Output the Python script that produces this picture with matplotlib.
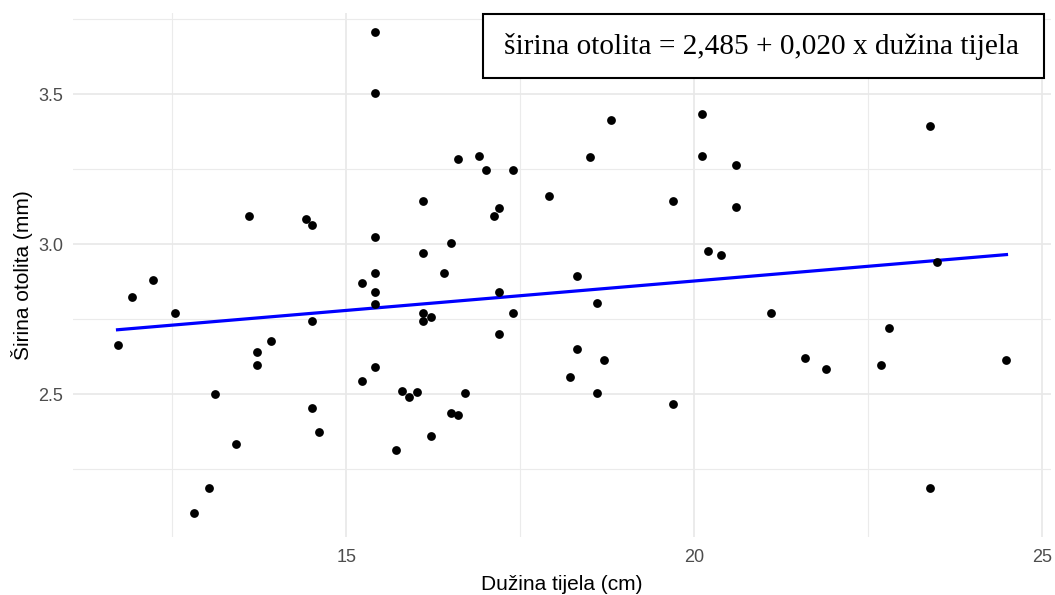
import numpy as np
import matplotlib
matplotlib.use("Agg")
import matplotlib.pyplot as plt
from matplotlib.patches import Rectangle

# ── Daten ────────────────────────────────────────────────────────────────────
duzina = [11.71, 11.92, 12.22, 12.53, 12.81, 13.02, 13.11, 13.41, 13.60, 13.72,
          13.72, 13.91, 14.42, 14.51, 14.51, 14.51, 14.61, 15.22, 15.22, 15.41,
          15.41, 15.41, 15.41, 15.41, 15.41, 15.41, 15.72, 15.80, 15.90, 16.01,
          16.10, 16.10, 16.10, 16.10, 16.21, 16.21, 16.41, 16.51, 16.51, 16.60,
          16.60, 16.71, 16.90, 17.01, 17.12, 17.20, 17.20, 17.20, 17.40, 17.40,
          17.92, 18.21, 18.31, 18.31, 18.50, 18.60, 18.60, 18.71, 18.80, 19.70,
          19.70, 20.11, 20.11, 20.20, 20.39, 20.60, 20.60, 21.10, 21.60, 21.90,
          22.69, 22.80, 23.39, 23.39, 23.49, 24.49]
sirina = [2.663, 2.824, 2.880, 2.770, 2.104, 2.187, 2.499, 2.335, 3.094, 2.640,
          2.598, 2.677, 3.083, 3.064, 2.745, 2.454, 2.375, 2.869, 2.544, 3.708,
          3.502, 3.025, 2.905, 2.840, 2.800, 2.590, 2.314, 2.512, 2.491, 2.508,
          3.144, 2.971, 2.772, 2.744, 2.758, 2.360, 2.905, 3.004, 2.438, 3.283,
          2.430, 2.503, 3.293, 3.247, 3.094, 3.120, 2.841, 2.701, 3.247, 2.770,
          3.161, 2.556, 2.895, 2.651, 3.290, 2.803, 2.503, 2.614, 3.413, 3.144,
          2.467, 3.432, 3.293, 2.977, 2.963, 3.264, 3.124, 2.770, 2.622, 2.585,
          2.597, 2.721, 3.395, 2.187, 2.940, 2.614]

intercept = 2.485
slope = 0.0196
eq_text = "širina otolita = 2,485 + 0,020 x dužina tijela"

x = np.array(duzina)
y = np.array(sirina)
xl = np.array([x.min(), x.max()])

# ── Plot ─────────────────────────────────────────────────────────────────────
plt.rcParams["font.family"] = ["Liberation Sans", "DejaVu Sans"]
fig = plt.figure(figsize=(10.55, 5.95), dpi=100)
W, H = 1055, 595
ax = fig.add_axes([73 / W, 1 - 537 / H, (1051 - 73) / W, (537 - 13) / H])

ax.scatter(x, y, s=40, color="black", zorder=3, linewidths=0)
ax.plot(xl, intercept + slope * xl, color="blue", lw=2.3, zorder=2)

ax.set_xlim(11.07, 25.13)
ax.set_ylim(2.024, 3.77)
ax.set_xticks([15, 20, 25])
ax.set_xticks([12.5, 17.5, 22.5], minor=True)
ax.set_yticks([2.5, 3.0, 3.5])
ax.set_yticklabels(["2.5", "3.0", "3.5"])
ax.set_yticks([2.25, 2.75, 3.25, 3.75], minor=True)
ax.grid(which="major", color="#E8E8E8", lw=1.2)
ax.grid(which="minor", color="#EBEBEB", lw=0.8)
ax.set_axisbelow(True)
for s in ax.spines.values():
    s.set_visible(False)
ax.tick_params(which="both", length=0, labelsize=13, labelcolor="#4D4D4D")
ax.tick_params(axis="x", pad=9)
ax.tick_params(axis="y", pad=7)
ax.set_xlabel("Dužina tijela (cm)", fontsize=15, labelpad=6)
ax.set_ylabel("Širina otolita (mm)", fontsize=15, labelpad=4)

# Gleichungskasten
fig.add_artist(Rectangle((483 / W, 1 - 78 / H), (1044 - 483) / W, 64 / H,
                         transform=fig.transFigure, facecolor="white",
                         edgecolor="black", lw=1.5, zorder=5))
fig.text(762 / W, 1 - 46 / H, eq_text, ha="center", va="center",
         fontsize=21.1, family=["Liberation Serif", "DejaVu Serif"], zorder=6)

plt.savefig("out.png", dpi=100)
plt.close()
